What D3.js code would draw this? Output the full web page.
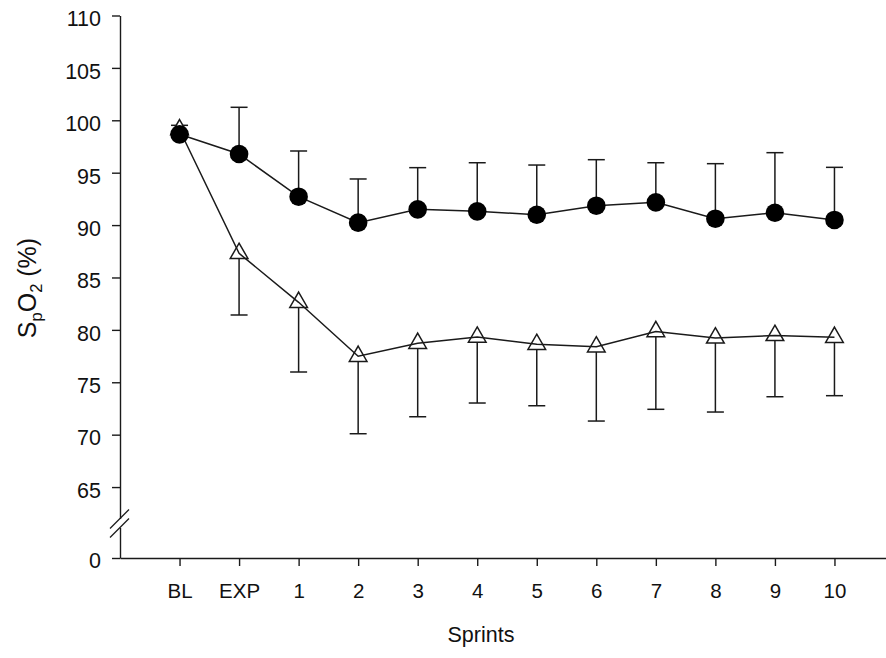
<!DOCTYPE html>
<html>
<head>
<meta charset="utf-8">
<script src="https://cdn.jsdelivr.net/npm/d3@7"></script>
<style>
  html, body { margin: 0; padding: 0; background: #fff; }
  text { font-family: "Liberation Sans", Arial, sans-serif; fill: #111; }
</style>
</head>
<body>
<div id="chart"></div>
<script>
// Data
const categories = ["BL", "EXP", "1", "2", "3", "4", "5", "6", "7", "8", "9", "10"];
const normMean = [98.66, 96.78, 92.71, 90.23, 91.5, 91.31, 90.99, 91.85, 92.17, 90.61, 91.18, 90.49];
const normSD   = [0.86, 4.46, 4.36, 4.17, 3.98, 4.64, 4.74, 4.39, 3.78, 5.25, 5.73, 5.02];
const hypoMean = [99.1, 87.3, 82.63, 77.48, 78.72, 79.31, 78.62, 78.38, 79.84, 79.23, 79.47, 79.29];
const hypoSD   = [0.5, 5.88, 6.65, 7.39, 7.01, 6.29, 5.86, 7.08, 7.42, 7.07, 5.85, 5.57];
const yTicksTop = [65, 70, 75, 80, 85, 90, 95, 100, 105, 110];
const yTicksBottom = [0];

const width = 886, height = 658;
const axisX = 120, axisY = 558;

const svg = d3.select("#chart").append("svg")
  .attr("width", width)
  .attr("height", height);

// x: point scale, one empty step on each side
const x = d3.scalePoint().domain(categories).range([axisX, 894]).padding(1);

// y: broken axis, upper part 62-110 and lower part with only 0
const yTop = d3.scaleLinear().domain([62, 110]).range([518.5, 15.5]);
const yBot = d3.scaleLinear().domain([0, 3]).range([axisY, 527.5]);

const stroke = "#1a1a1a";

// Axes
const yAxisTop = d3.axisLeft(yTop).tickValues(yTicksTop).tickFormat(d3.format("d"))
  .tickSize(8).tickSizeOuter(0).tickPadding(11);
const yAxisBot = d3.axisLeft(yBot).tickValues(yTicksBottom).tickFormat(d3.format("d"))
  .tickSize(8).tickSizeOuter(0).tickPadding(11);
const xAxis = d3.axisBottom(x).tickSize(8).tickSizeOuter(0).tickPadding(17);

function styleAxis(g, fs) {
  g.selectAll("path, line").attr("stroke", stroke).attr("stroke-width", 1.4);
  g.selectAll("text").attr("font-size", fs).attr("fill", "#111")
    .attr("font-family", '"Liberation Sans", Arial, sans-serif');
}

svg.append("g").attr("transform", `translate(${axisX},0)`).call(yAxisTop).call(styleAxis, 21.5)
  .selectAll("text").attr("dy", "0.48em");
svg.append("g").attr("transform", `translate(${axisX},0)`).call(yAxisBot).call(styleAxis, 21.5)
  .selectAll("text").attr("dy", "0.42em");
svg.append("g").attr("transform", `translate(0,${axisY})`).call(xAxis).call(styleAxis, 20.5);

// break marks
[yTop.range()[0], yBot.range()[1]].forEach(yy => {
  svg.append("line")
    .attr("x1", axisX - 10).attr("y1", yy + 10)
    .attr("x2", axisX + 9).attr("y2", yy - 9)
    .attr("stroke", stroke).attr("stroke-width", 1.2);
});

// axis titles
const ylab = svg.append("text")
  .attr("transform", "translate(36,288) rotate(-90)")
  .attr("text-anchor", "middle")
  .attr("font-size", 25);
ylab.append("tspan").text("S");
ylab.append("tspan").attr("font-size", 16.5).attr("dy", 6).text("p");
ylab.append("tspan").attr("dy", -6).text("O");
ylab.append("tspan").attr("font-size", 16.5).attr("dy", 6).text("2");
ylab.append("tspan").attr("dy", -6).text(" (%)");

svg.append("text")
  .attr("x", 481).attr("y", 642)
  .attr("text-anchor", "middle")
  .attr("font-size", 21.5)
  .text("Sprints");

const plot = svg.append("g");
const capW = 8.5;

// error bars: normoxia upward, hypoxia downward
const normData = categories.map((c, i) => ({ c, m: normMean[i], e: normSD[i] }));
const hypoData = categories.map((c, i) => ({ c, m: hypoMean[i], e: hypoSD[i] }));

function errorBars(data, dir) {
  const g = plot.append("g").attr("stroke", stroke).attr("stroke-width", 1.5);
  g.selectAll("line.v").data(data).join("line")
    .attr("x1", d => x(d.c)).attr("x2", d => x(d.c))
    .attr("y1", d => yTop(d.m)).attr("y2", d => yTop(d.m + dir * d.e));
  g.selectAll("line.cap").data(data).join("line")
    .attr("x1", d => x(d.c) - capW).attr("x2", d => x(d.c) + capW)
    .attr("y1", d => yTop(d.m + dir * d.e)).attr("y2", d => yTop(d.m + dir * d.e));
}
errorBars(hypoData, -1);
errorBars(normData, 1);

const line = d3.line().x(d => x(d.c)).y(d => yTop(d.m));

// hypoxia: open triangles
plot.append("g").selectAll("path").data(hypoData).join("path")
  .attr("transform", d => `translate(${x(d.c)},${yTop(d.m)})`)
  .attr("d", d3.symbol(d3.symbolTriangle, 135))
  .attr("fill", "#fff").attr("stroke", stroke).attr("stroke-width", 1.5);

plot.append("path").datum(hypoData)
  .attr("fill", "none").attr("stroke", stroke).attr("stroke-width", 1.5)
  .attr("d", line);

// normoxia: filled circles
plot.append("path").datum(normData)
  .attr("fill", "none").attr("stroke", stroke).attr("stroke-width", 1.5)
  .attr("d", line);

plot.append("g").selectAll("circle").data(normData).join("circle")
  .attr("cx", d => x(d.c)).attr("cy", d => yTop(d.m))
  .attr("r", 9.3).attr("fill", "#000");
</script>
</body>
</html>
